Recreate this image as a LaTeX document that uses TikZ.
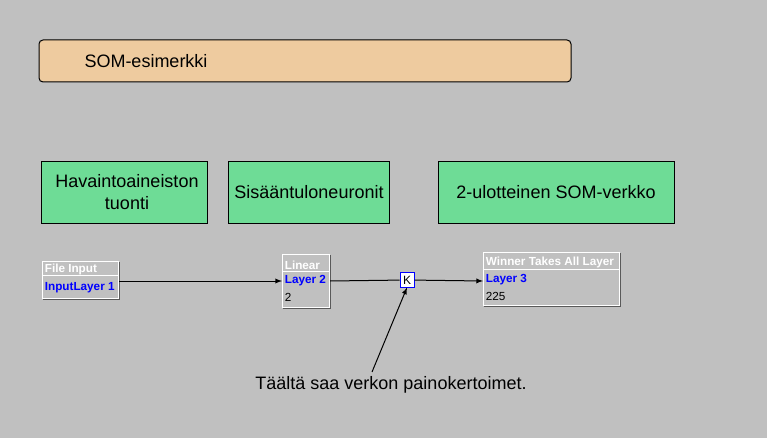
\documentclass[tikz,border=0pt]{standalone}
\usepackage{fontspec}
\setmainfont{Liberation Sans}
\usetikzlibrary{calc}
\definecolor{bg}{HTML}{C0C0C0}
\definecolor{tan}{HTML}{EECB9F}
\definecolor{mint}{HTML}{6EDC96}
\definecolor{winblue}{HTML}{0000FF}
\tikzset{
	note/.style={draw=black,fill=mint},
	big/.style={font=\fontsize{13.5}{17}\selectfont,align=center},
	head/.style={text=white,font=\bfseries\fontsize{8.8}{10}\selectfont,anchor=west,inner sep=1pt},
	row/.style={font=\fontsize{8.8}{10}\selectfont,anchor=west,inner sep=1pt},
	bluerow/.style={row,text=winblue,font=\bfseries\fontsize{8.8}{10}\selectfont}
}
\newcommand{\layerbox}[5]{% name, x1, y1, x2, y2
	\fill[white] (#2,#3) rectangle (#4,#5);
	\fill[bg] ($(#2,#3)+(1,1)$) rectangle ($(#4,#5)+(-1,-1)$);
	\draw[gray!70!black] ($(#2,#5)+(1,0)$) -- (#4,#5) -- ($(#4,#3)+(0,1)$);
	\coordinate (#1) at (#2,#3);
}
\begin{document}
\begin{tikzpicture}[x=0.75pt,y=-0.75pt,line width=0.75pt]
				\fill[bg] (0,0) rectangle (767,438);
				
				\draw[fill=tan,rounded corners=3pt] (39,40) rectangle (571,82);
				\node[big,anchor=west,inner sep=0pt] (title) at (84,61) {SOM-esimerkki};
				
				\draw[note] (41,162) rectangle (207,224);
				\node[big] (n1) at (127,192) {Havaintoaineiston\\tuonti};
				\draw[note] (228,162) rectangle (389,224);
				\node[big] (n2) at (309,192) {Sisääntuloneuronit};
				\draw[note] (438,162) rectangle (674,224);
				\node[big] (n3) at (556,192) {2-ulotteinen SOM-verkko};
				
				% layer boxes
				\layerbox{fin}{42}{261}{119}{299}
				\draw[white] (43,276) -- (118,276);
				\node[head] at (43,269) {File Input};
				\node[bluerow] at (43,288) {InputLayer 1};
				
				\layerbox{lin}{282}{254}{330}{308}
				\draw[white] (283,272) -- (329,272);
				\node[head] at (283,265) {Linear};
				\node[bluerow] at (283,281) {Layer 2};
				\node[row] at (283,297) {2};
				
				\layerbox{wta}{483}{252}{620}{306}
				\draw[white] (484,270) -- (619,270);
				\node[head] at (484,262) {Winner Takes All Layer};
				\node[bluerow] at (484,280) {Layer 3};
				\node[row] at (484,296) {225};
				
				% synapse
				\node[draw=winblue,fill=white,minimum size=10.5pt,inner sep=0pt,font=\fontsize{9}{10}\selectfont] (K) at (407,280) {K};
				
				\coordinate (fout) at (119,281);
				\coordinate (lin in) at (282,281);
				\coordinate (lout) at (330,281);
				\coordinate (wta in) at (483,281);
				\draw[-latex] (fout) -- (lin in);
				\draw (lout) -- (K);
				\draw[-latex] (K) -- (wta in);
				
				\node[big] (txt) at (391,385) {Täältä saa verkon painokertoimet.};
				\coordinate (tip) at (372,372);
				\draw[-latex] (tip) -- (K.south);
			\end{tikzpicture}
\end{document}
